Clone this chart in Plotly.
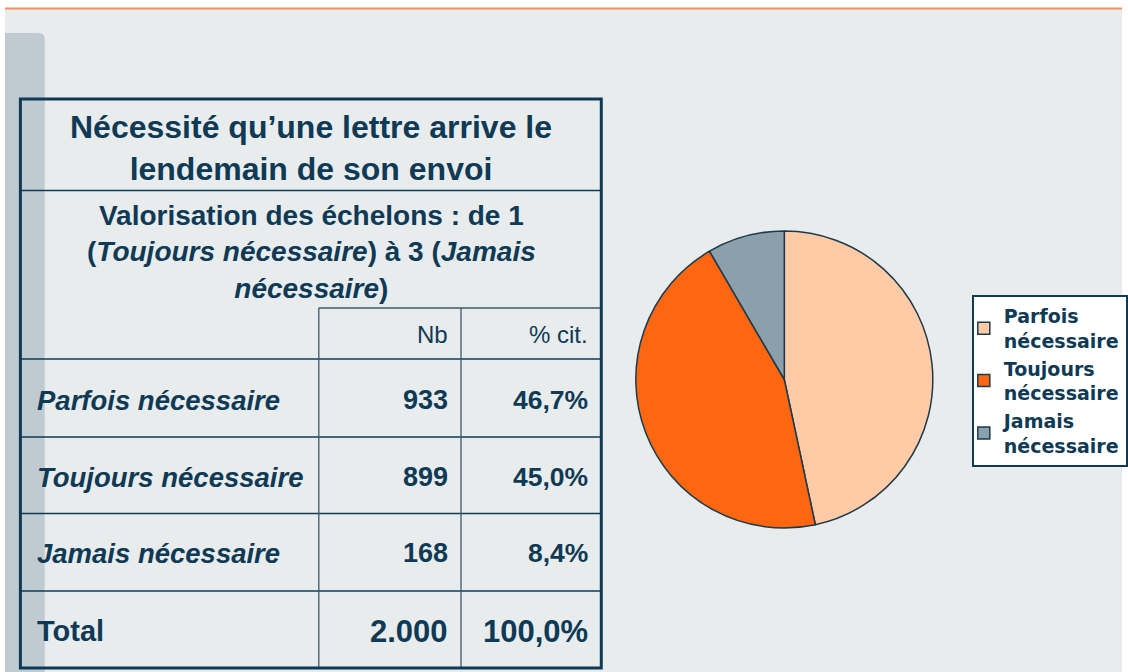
import plotly.graph_objects as go

# ---- data ----
categories = ["Parfois nécessaire", "Toujours nécessaire", "Jamais nécessaire"]
legend_labels = ["Parfois<br>nécessaire", "Toujours<br>nécessaire", "Jamais<br>nécessaire"]
counts = [933, 899, 168]
count_labels = ["933", "899", "168"]
pct_labels = ["46,7%", "45,0%", "8,4%"]
total_label = "Total"
total_count = "2.000"
total_pct = "100,0%"
col_headers = ["Nb", "% cit."]
title_text = "Nécessité qu’une lettre arrive le<br>lendemain de son envoi"
subtitle_text = ("Valorisation des échelons : de 1<br>(<i>Toujours nécessaire</i>) à 3 (<i>Jamais</i>"
                 "<br><i>nécessaire</i>)")
slice_colors = ["#FFCBA6", "#FF6610", "#8BA0AB"]

# ---- style ----
W, H = 1128, 672
NAVY = "#0F3A55"
INNER = "#3D5868"
FONT = "Liberation Sans"

fig = go.Figure()

fig.add_trace(go.Pie(
    labels=legend_labels,
    values=counts,
    sort=False,
    direction="clockwise",
    rotation=0,
    textinfo="none",
    hoverinfo="label+value+percent",
    marker=dict(colors=slice_colors, line=dict(color="#1B3A4E", width=1.5)),
    domain=dict(x=[636 / W, 941 / W], y=[1 - 528 / H, 1 - 231 / H]),
))

shapes = []
# grey background below the orange rule
shapes.append(dict(type="rect", xref="x", yref="y", x0=5, y0=9, x1=W + 2, y1=H + 2,
                   fillcolor="#E9ECED", line=dict(width=0), layer="below"))
# orange rule
shapes.append(dict(type="line", xref="x", yref="y", x0=5, y0=8.5, x1=W + 2, y1=8.5,
                   line=dict(color="#F4915B", width=2), layer="below"))
# grey vertical bar with rounded top-right corner
shapes.append(dict(type="path", xref="x", yref="y",
                   path="M5,674 L5,33 L39,33 Q45,33 45,39 L45,674 Z",
                   fillcolor="#C0CBD1", line=dict(width=0), layer="below"))

def hline(y, x0, x1, w=1.3, c=INNER):
    shapes.append(dict(type="line", xref="x", yref="y", x0=x0, y0=y, x1=x1, y1=y,
                       line=dict(color=c, width=w)))

def vline(x, y0, y1, w=1.3, c=INNER):
    shapes.append(dict(type="line", xref="x", yref="y", x0=x, y0=y0, x1=x, y1=y1,
                       line=dict(color=c, width=w)))

hline(190.5, 20.5, 604.5, 1.5, NAVY)
hline(308, 320.5, 604.5)
for yy in [359, 437, 513.5, 591]:
    hline(yy, 20.5, 604.5, 1.5, NAVY)
vline(320.5, 308, 668)
vline(463.5, 308, 668)
# outer border
shapes.append(dict(type="rect", xref="x", yref="y", x0=20.5, y0=99, x1=604.5, y1=668,
                   line=dict(color=NAVY, width=3), fillcolor="rgba(0,0,0,0)"))

annotations = []

def txt(x, y, text, size, anchor="center", bold=True, italic=False):
    t = text
    if italic:
        t = f"<i>{t}</i>"
    if bold:
        t = f"<b>{t}</b>"
    annotations.append(dict(x=x, y=y, xref="x", yref="y", text=t, showarrow=False,
                            xanchor=anchor, yanchor="middle", align=anchor,
                            font=dict(family=FONT, size=size, color=NAVY)))

txt(313, 148, title_text, 32)
txt(313, 252, subtitle_text, 28)
txt(452, 334, col_headers[0], 24, "right", bold=False)
txt(593, 334, col_headers[1], 24, "right", bold=False)

row_y = [400, 477, 553]
for i, cat in enumerate(categories):
    txt(35, row_y[i], cat, 27.5, "left", italic=True)
    txt(452, row_y[i], count_labels[i], 27, "right")
    txt(593, row_y[i], pct_labels[i], 26.5, "right")
txt(35, 631, total_label, 29, "left")
txt(452, 631, total_count, 31, "right")
txt(593, 631, total_pct, 31, "right")

fig.update_layout(
    width=W, height=H, autosize=False,
    margin=dict(l=0, r=0, t=0, b=0, pad=0),
    paper_bgcolor="white",
    plot_bgcolor="rgba(0,0,0,0)",
    xaxis=dict(range=[0, W], visible=False, fixedrange=True, domain=[0, 1]),
    yaxis=dict(range=[H, 0], visible=False, fixedrange=True, domain=[0, 1]),
    shapes=shapes,
    annotations=annotations,
    showlegend=True,
    legend=dict(
        x=977 / W, y=1 - 295 / H, xanchor="left", yanchor="top",
        bgcolor="white", bordercolor=NAVY, borderwidth=2,
        font=dict(family="DejaVu Sans", size=19, color=NAVY, weight="bold"),
        tracegroupgap=0, indentation=-10,
    ),
)

post = (
    "document.documentElement.style.margin='0';"
    "document.documentElement.style.padding='0';"
    "document.documentElement.style.overflow='hidden';"
    "document.body.style.margin='0';"
    "document.body.style.padding='0';"
    "document.body.style.overflow='hidden';"
)
fig.write_html("out.html", config={"displayModeBar": False, "responsive": False},
               post_script=post)
